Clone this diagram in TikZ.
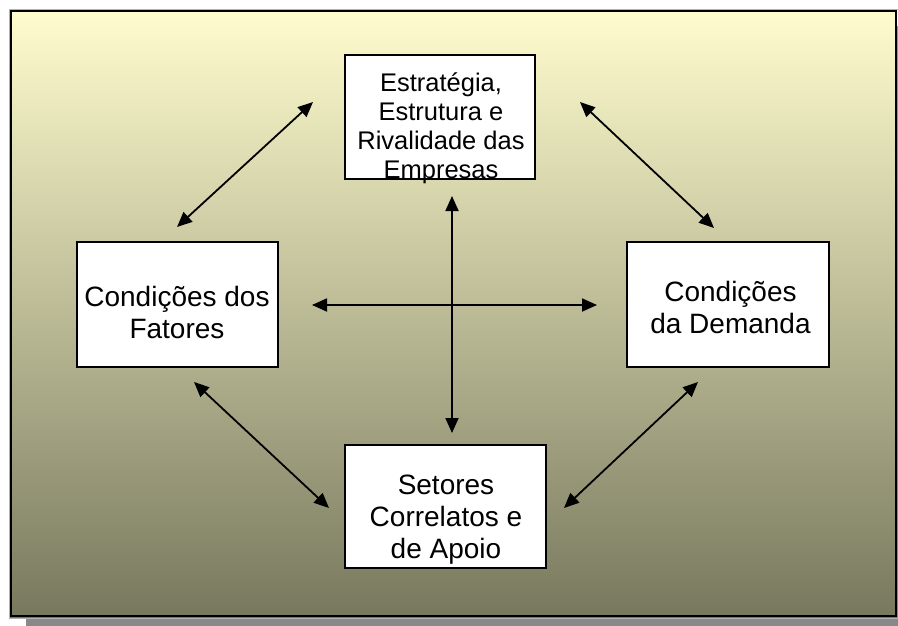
\documentclass[tikz,border=0pt]{standalone}
\usepackage{fontspec}
\setmainfont{Liberation Sans}
\usetikzlibrary{arrows.meta}
\definecolor{bgtop}{RGB}{255,253,206}
\definecolor{bgmid}{RGB}{212,212,168}
\definecolor{bgbot}{RGB}{120,120,94}
\definecolor{shadowgray}{RGB}{136,136,136}
\begin{document}
\begin{tikzpicture}[x=1pt,y=-1pt,
  box/.style={draw=black,line width=1.5pt,fill=white,inner sep=0pt},
  lbl/.style={align=center,inner sep=0pt,font=\fontsize{28}{32}\selectfont},
  dbl/.style={line width=1.8pt,{Triangle[length=15pt,width=13pt]}-{Triangle[length=15pt,width=13pt]}}]
\useasboundingbox (0,0) rectangle (898,626);
\fill[white] (0,0) rectangle (898,626);
\fill[shadowgray] (26,26) rectangle (920,640);
\shade[top color=bgtop,middle color=bgmid,bottom color=bgbot] (10,10) rectangle (897,617);
\draw[gray!60,line width=0.8pt] (9,9) rectangle (898,618);
\draw[black,line width=2pt] (11,11) rectangle (896,616);

\node[box,minimum width=190pt,minimum height=124pt] (top) at (440,117) {};
\node[lbl,font=\fontsize{25.5}{28.8}\selectfont,anchor=north] (toptxt) at (441,73) {Estratégia,\\Estrutura e\\Rivalidade das\\Empresas};
\node[box,minimum width=201pt,minimum height=125pt] (left) at (177.5,304.5) {};
\node[lbl] (lefttxt) at (177,312) {Condições dos\\Fatores};
\node[box,minimum width=202pt,minimum height=125pt] (right) at (728,304.5) {};
\node[lbl] (righttxt) at (730.5,307) {Condições\\da Demanda};
\node[box,minimum width=201pt,minimum height=123pt] (bottom) at (445.5,506.5) {};
\node[lbl] (bottomtxt) at (446,520) {Setores\\Correlatos e\\de Apoio};

\coordinate (v1) at (452,196);
\coordinate (v2) at (452,433);
\coordinate (h1) at (312,305);
\coordinate (h2) at (597,305);
\coordinate (tl1) at (313,102);
\coordinate (tl2) at (177,227);
\coordinate (tr1) at (580,102);
\coordinate (tr2) at (714,228);
\coordinate (bl1) at (194,382);
\coordinate (bl2) at (329,508);
\coordinate (br1) at (698,382);
\coordinate (br2) at (564,508);
\draw[dbl] (v1) -- (v2);
\draw[dbl] (h1) -- (h2);
\draw[dbl] (tl1) -- (tl2);
\draw[dbl] (tr1) -- (tr2);
\draw[dbl] (bl1) -- (bl2);
\draw[dbl] (br1) -- (br2);
\end{tikzpicture}
\end{document}
